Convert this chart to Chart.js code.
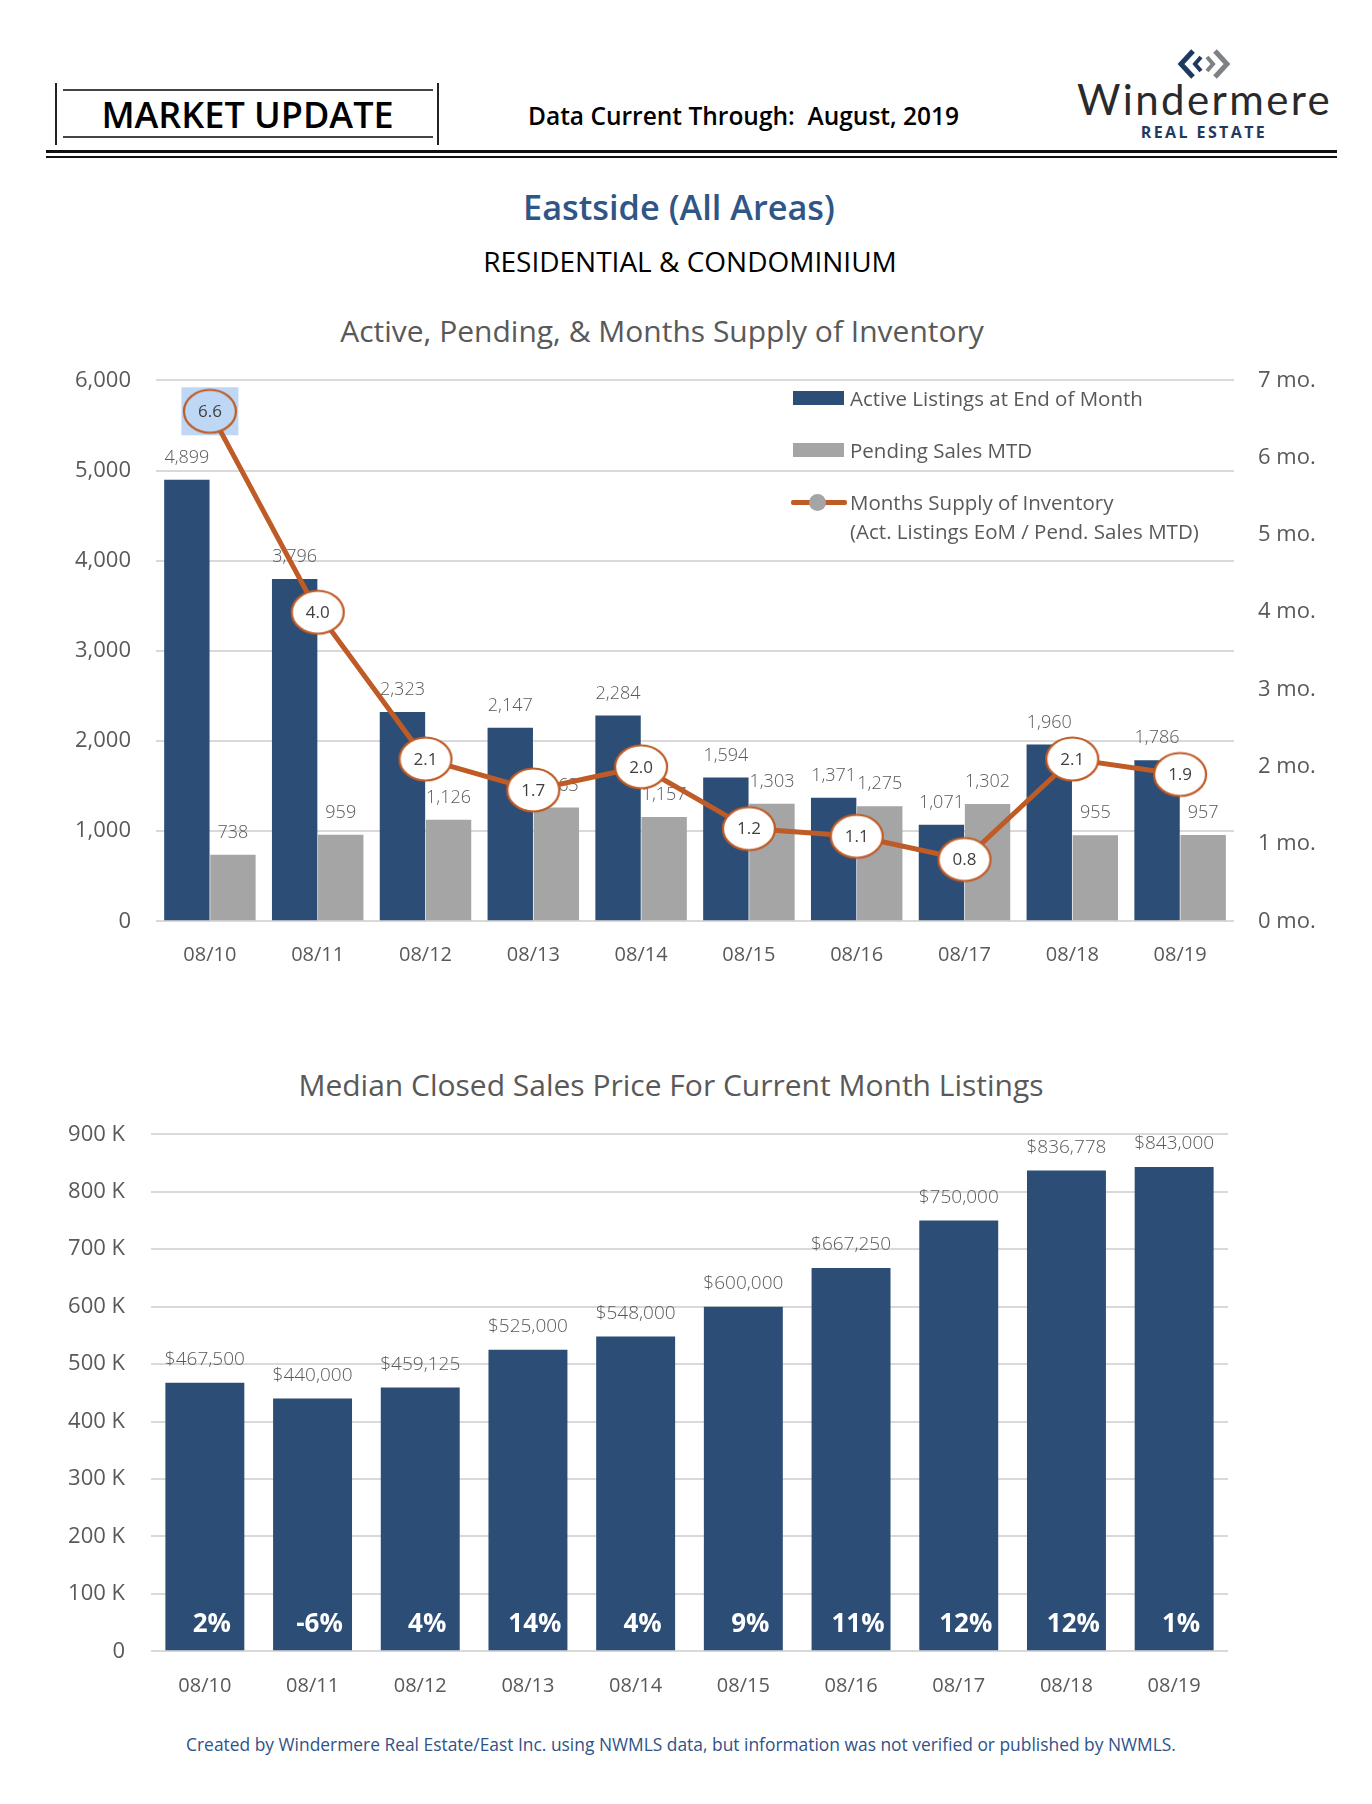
<!DOCTYPE html>
<html>
<head>
<meta charset="utf-8">
<script src="https://cdn.jsdelivr.net/npm/chart.js@4.4.1/dist/chart.umd.min.js"></script>
<style>
  body { margin: 0; width: 1372px; height: 1804px; background: #fff; position: relative; overflow: hidden; font-family: "Open Sans", sans-serif; }
  .abs { position: absolute; }
  .line { position: absolute; background: #222; }
  .center { text-align: center; white-space: nowrap; line-height: 1; }
  .legend-text { position: absolute; left: 850px; font-size: 20.5px; color: #595959; white-space: nowrap; }
</style>
</head>
<body>

<!-- header -->
<div class="line" style="left:55px;top:83px;width:2px;height:62px;"></div>
<div class="line" style="left:437px;top:83px;width:2px;height:62px;"></div>
<div class="line" style="left:63px;top:89px;width:370px;height:2px;background:#444;"></div>
<div class="line" style="left:63px;top:136px;width:370px;height:2px;background:#444;"></div>
<div class="abs center" style="left:57px;width:381px;top:97px;font-size:36px;font-weight:600;color:#000;">MARKET UPDATE</div>
<div class="abs" style="left:528px;top:104px;font-size:24.5px;font-weight:600;color:#000;line-height:1;white-space:nowrap;">Data Current Through:&nbsp; August, 2019</div>

<svg class="abs" style="left:1176px;top:48px;" width="56" height="32" viewBox="0 0 56 32">
  <path d="M17 3 L5 16 L17 29" stroke="#1F3A60" stroke-width="5" fill="none"/>
  <path d="M25 9 L19 16 L25 23" stroke="#1F3A60" stroke-width="4" fill="none"/>
  <path d="M39 3 L51 16 L39 29" stroke="#7F8285" stroke-width="5" fill="none"/>
  <path d="M31 9 L37 16 L31 23" stroke="#7F8285" stroke-width="4" fill="none"/>
</svg>
<div class="abs" style="left:1077px;top:78px;font-family:Lato,sans-serif;font-size:42px;font-weight:400;color:#2a2a2a;line-height:1;letter-spacing:2.4px;">Windermere</div>
<div class="abs center" style="left:1104px;width:200px;top:124px;font-size:16px;font-weight:700;color:#1F3A60;letter-spacing:2.4px;">REAL ESTATE</div>

<div class="line" style="left:46px;top:150px;width:1291px;height:3px;background:#111;"></div>
<div class="line" style="left:46px;top:156px;width:1291px;height:2px;background:#111;"></div>

<div class="abs center" style="left:379px;width:600px;top:190px;font-size:34.3px;font-weight:600;color:#2F5685;">Eastside (All Areas)</div>
<div class="abs center" style="left:390px;width:600px;top:247px;font-size:28px;color:#000;">RESIDENTIAL &amp; CONDOMINIUM</div>

<!-- chart 1 -->
<div class="abs center" style="left:262px;width:800px;top:316px;font-size:30px;color:#595959;">Active, Pending, &amp; Months Supply of Inventory</div>
<canvas id="grafico1" class="abs" style="left:0;top:360px;"></canvas>

<div class="abs" style="left:793px;top:391px;width:51px;height:14px;background:#2C4D75;"></div>
<div class="legend-text" style="top:386px;line-height:24px;">Active Listings at End of Month</div>
<div class="abs" style="left:793px;top:443px;width:51px;height:14px;background:#A5A5A5;"></div>
<div class="legend-text" style="top:438px;line-height:24px;">Pending Sales MTD</div>
<div class="abs" style="left:791px;top:500px;width:56px;height:5px;background:#BF5B26;border-radius:2px;"></div>
<div class="abs" style="left:809px;top:494px;width:17px;height:17px;background:#A5A5A5;border-radius:50%;"></div>
<div class="legend-text" style="top:488px;line-height:29px;">Months Supply of Inventory<br>(Act. Listings EoM / Pend. Sales MTD)</div>

<!-- chart 2 -->
<div class="abs center" style="left:171px;width:1000px;top:1070px;font-size:30px;color:#595959;">Median Closed Sales Price For Current Month Listings</div>
<canvas id="grafico2" class="abs" style="left:0;top:1110px;"></canvas>

<div class="abs center" style="left:181px;width:1000px;top:1736px;font-size:17.4px;color:#2F5288;">Created by Windermere Real Estate/East Inc. using NWMLS data, but information was not verified or published by NWMLS.</div>

<script>
const meses = ['08/10', '08/11', '08/12', '08/13', '08/14', '08/15', '08/16', '08/17', '08/18', '08/19'];
const ativos = [4899, 3796, 2323, 2147, 2284, 1594, 1371, 1071, 1960, 1786];
const pendentes = [738, 959, 1126, 1263, 1157, 1303, 1275, 1302, 955, 957];
const estoqueMeses = [6.6, 4.0, 2.1, 1.7, 2.0, 1.2, 1.1, 0.8, 2.1, 1.9];
const precoMediano = [467500, 440000, 459125, 525000, 548000, 600000, 667250, 750000, 836778, 843000];
const variacao = ['2%', '-6%', '4%', '14%', '4%', '9%', '11%', '12%', '12%', '1%'];

const NAVY = '#2C4D75';
const GRAY = '#A5A5A5';
const ORANGE = '#BF5B26';
const GRID = '#D9D9D9';
const TEXT = '#595959';
const HIGHLIGHT = '#BDD7F4';

Chart.defaults.font.family = '"Open Sans", sans-serif';
Chart.defaults.color = TEXT;
Chart.defaults.animation = false;

function elipse(fill) {
    const c = document.createElement('canvas');
    c.width = 58;
    c.height = 50;
    const g = c.getContext('2d');
    g.beginPath();
    g.ellipse(29, 25, 26, 21.5, 0, 0, Math.PI * 2);
    g.fillStyle = fill;
    g.fill();
    g.lineWidth = 2.2;
    g.strokeStyle = ORANGE;
    g.stroke();
    return c;
}
const elBranca = elipse('#fff');
const elAzul = elipse(HIGHLIGHT);

const fmt = (v) => v.toLocaleString('en-US');

// axis sizes fixed so the plot area lands where the original has it
const fixY = (w) => (s) => { s.width = w; s.paddingTop = 0; s.paddingBottom = 0; };
const fixX = (s) => { s.height = 58.7; s.paddingLeft = 0; s.paddingRight = 0; };

// labels over bars and inside the ellipses
const rotulos1 = {
    id: 'rotulos1',
    beforeDatasetDraw(chart, args) {
        if (args.index !== 0) return;
        const p = args.meta.data[0];
        const ctx = chart.ctx;
        ctx.save();
        ctx.fillStyle = HIGHLIGHT;
        ctx.fillRect(p.x - 28.5, p.y - 24, 57, 48);
        ctx.restore();
    },
    afterDatasetDraw(chart, args) {
        const ctx = chart.ctx;
        const ds = chart.data.datasets[args.index];
        ctx.save();
        ctx.textAlign = 'center';
        ctx.textBaseline = 'middle';
        args.meta.data.forEach((el, i) => {
            if (args.index === 0) {
                ctx.font = '400 17px "Open Sans"';
                ctx.fillStyle = '#404040';
                ctx.fillText(ds.data[i].toFixed(1), el.x, el.y + 1);
            } else {
                ctx.font = '300 18px "Open Sans"';
                ctx.fillStyle = TEXT;
                ctx.fillText(fmt(ds.data[i]), el.x, el.y - 22);
            }
        });
        ctx.restore();
    }
};

const ctx = document.getElementById('grafico1');
ctx.width = 1372;
ctx.height = 620;
new Chart(ctx, {
    type: 'bar',
    data: {
        labels: meses,
        datasets: [{
            type: 'line',
            label: 'Months Supply of Inventory',
            data: estoqueMeses,
            yAxisID: 'y1',
            borderColor: ORANGE,
            borderWidth: 5,
            pointStyle: estoqueMeses.map((v, i) => i === 0 ? elAzul : elBranca),
            pointRadius: 24,
            order: 0,
            clip: false
        },
        {
            label: 'Active Listings at End of Month',
            data: ativos,
            backgroundColor: NAVY,
            categoryPercentage: 0.855,
            barPercentage: 0.985,
            order: 1
        },
        {
            label: 'Pending Sales MTD',
            data: pendentes,
            backgroundColor: GRAY,
            categoryPercentage: 0.855,
            barPercentage: 0.985,
            order: 1
        }]
    },
    options: {
        responsive: false,
        layout: { autoPadding: false, padding: { top: 20.4 } },
        plugins: { legend: { display: false }, tooltip: { enabled: false } },
        scales: {
            x: {
                grid: { display: false },
                border: { display: false },
                ticks: { padding: 13.7, font: { size: 20 } },
                afterFit: fixX
            },
            y: {
                min: 0,
                max: 6000,
                grid: { color: GRID, lineWidth: 2, drawTicks: false },
                border: { display: false },
                ticks: { stepSize: 1000, padding: 25, font: { size: 22 }, callback: (v) => fmt(v) },
                afterFit: fixY(156)
            },
            y1: {
                position: 'right',
                min: 0,
                max: 7,
                grid: { display: false, drawTicks: false },
                border: { display: false },
                ticks: { stepSize: 1, padding: 24, font: { size: 22 }, callback: (v) => v + ' mo.' },
                afterFit: fixY(138)
            }
        }
    },
    plugins: [rotulos1]
});

const rotulos2 = {
    id: 'rotulos2',
    afterDatasetDraw(chart, args) {
        const ctx = chart.ctx;
        ctx.save();
        ctx.textAlign = 'center';
        ctx.textBaseline = 'middle';
        args.meta.data.forEach((el, i) => {
            ctx.font = '300 19px "Open Sans"';
            ctx.fillStyle = TEXT;
            ctx.fillText('$' + fmt(precoMediano[i]), el.x, el.y - 23);
            ctx.font = '700 26px "Open Sans"';
            ctx.fillStyle = '#fff';
            ctx.fillText(variacao[i], el.x + 7, el.base - 26);
        });
        ctx.restore();
    }
};

const ctx2 = document.getElementById('grafico2');
ctx2.width = 1372;
ctx2.height = 600;
new Chart(ctx2, {
    type: 'bar',
    data: {
        labels: meses,
        datasets: [{
            label: 'Median Closed Sales Price',
            data: precoMediano,
            backgroundColor: NAVY,
            categoryPercentage: 1,
            barPercentage: 0.733
        }]
    },
    options: {
        responsive: false,
        layout: { padding: { top: 24.3, right: 144 } },
        plugins: { legend: { display: false }, tooltip: { enabled: false } },
        scales: {
            x: {
                grid: { display: false },
                border: { display: false },
                ticks: { padding: 14.7, font: { size: 20 } },
                afterFit: fixX
            },
            y: {
                min: 0,
                max: 900000,
                grid: { color: GRID, lineWidth: 2, drawTicks: false },
                border: { display: false },
                ticks: {
                    stepSize: 100000,
                    padding: 26,
                    font: { size: 22 },
                    callback: (v) => v === 0 ? '0' : (v / 1000) + ' K'
                },
                afterFit: fixY(151)
            }
        }
    },
    plugins: [rotulos2]
});
</script>
</body>
</html>
